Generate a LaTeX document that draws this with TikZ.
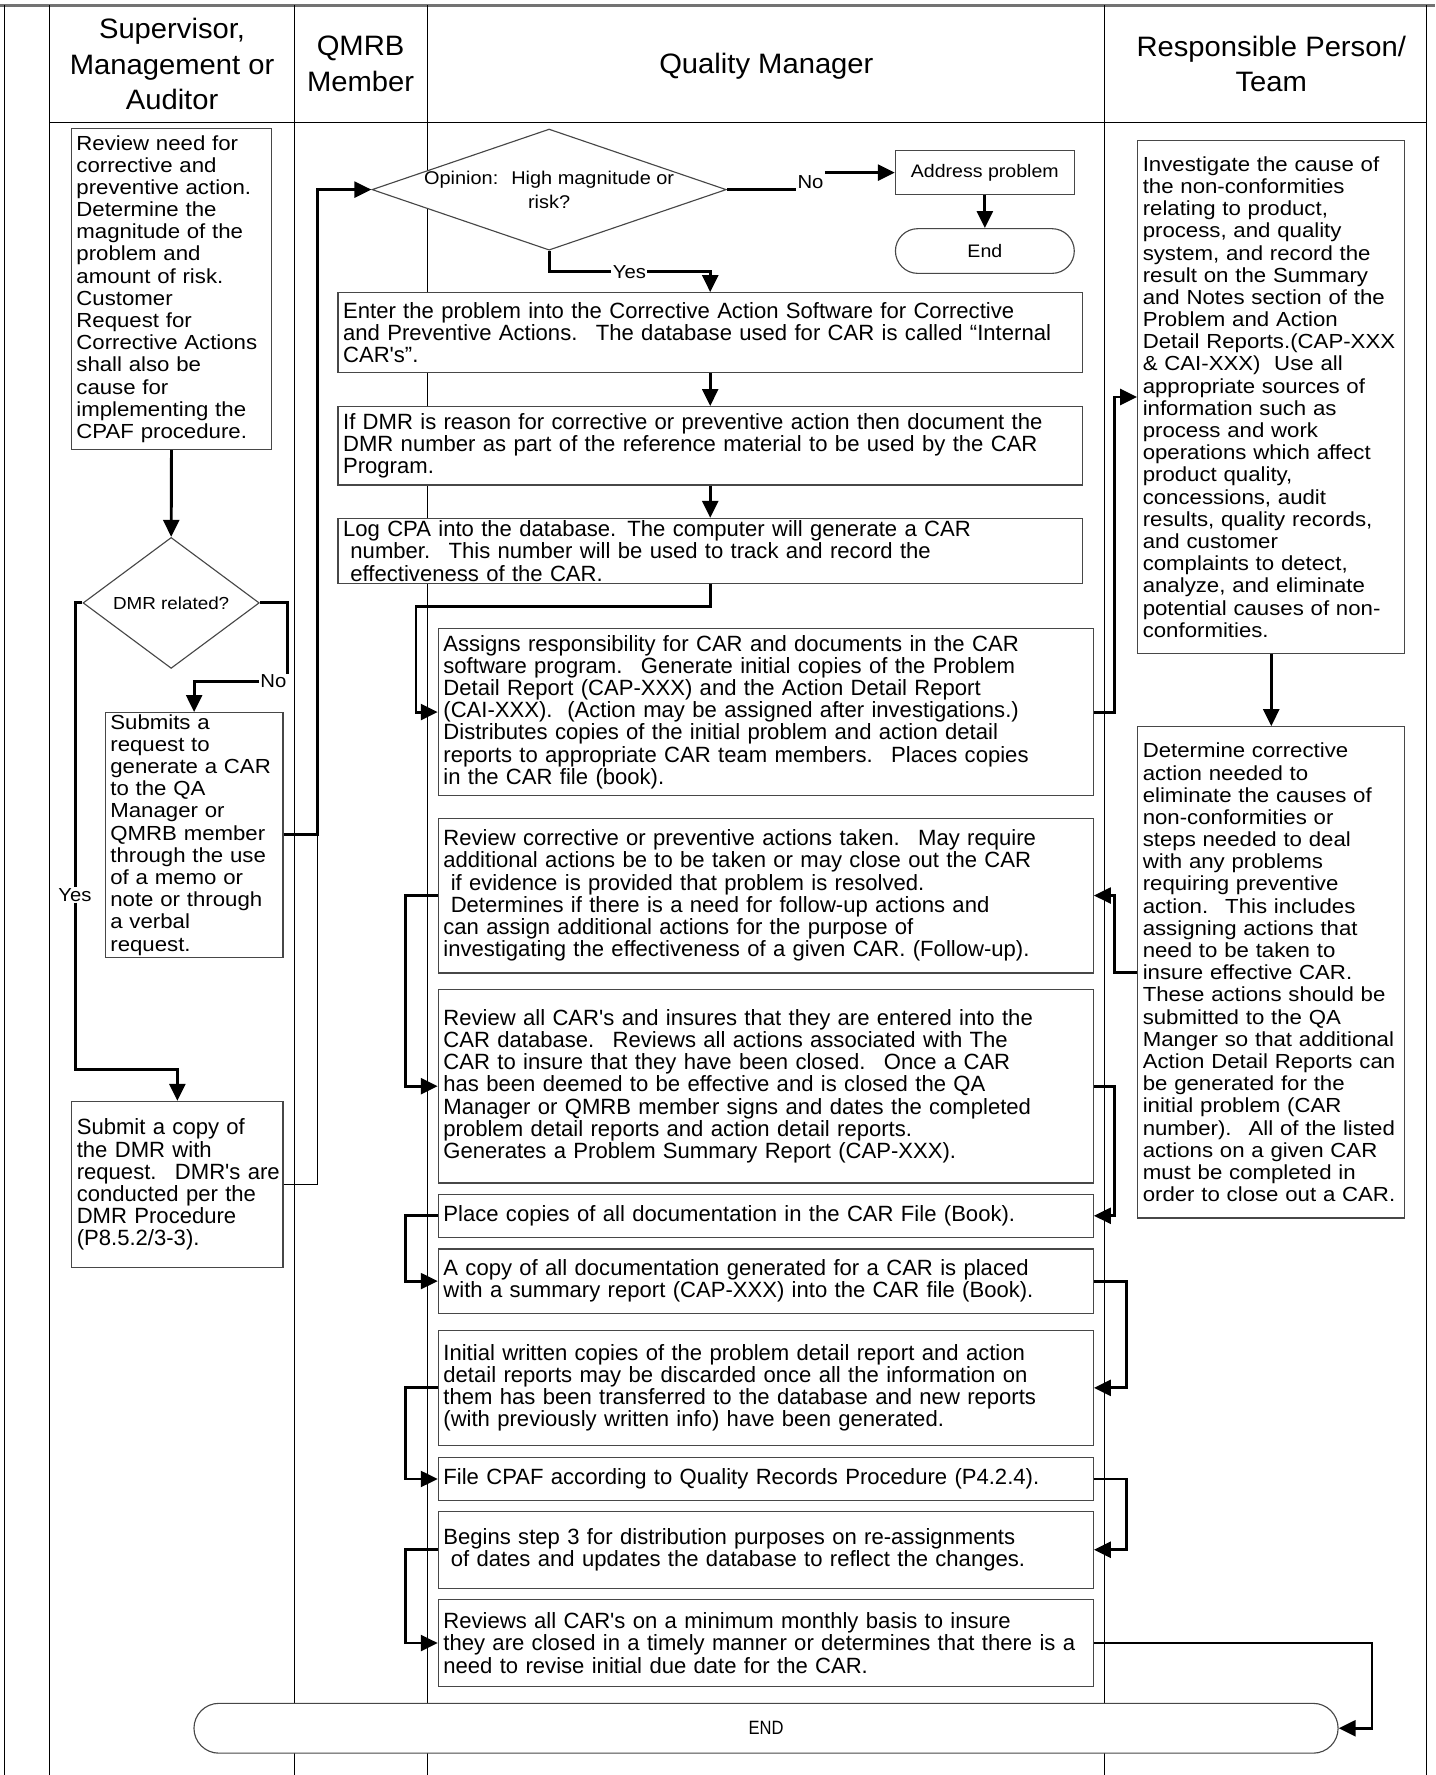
\documentclass[tikz,border=0pt]{standalone}
\usepackage{fontspec}
\setmainfont{Liberation Sans}
\newfontfamily\bodyfont[FakeStretch=1.0]{Liberation Sans}
\newfontfamily\sidefont[FakeStretch=1.09]{Liberation Sans}
\newfontfamily\lblfont[FakeStretch=1.08]{Liberation Sans}
\newfontfamily\headfont[FakeStretch=1.04]{Liberation Sans}
\newfontfamily\endfont[FakeStretch=0.86]{Liberation Sans}
\usetikzlibrary{arrows.meta,shapes.geometric}
\definecolor{boxgrey}{gray}{0.28}
\definecolor{bandgrey}{gray}{0.45}
\newcommand\leadsp{\mbox{}\ }
\begin{document}
\begin{tikzpicture}[x=1pt,y=-1pt,
  lane/.style={line width=1pt, black},
  box/.style={draw=boxgrey, line width=1pt, fill=white, rectangle, inner xsep=4.5pt, inner ysep=1pt, align=left,
    font={\bodyfont\fontsize{19.5}{19.6}\selectfont},
    execute at begin node={\rightskip=0pt plus 1fil minus 1000pt\relax}},
  sidebox/.style={box, font={\sidefont\fontsize{18}{19.6}\selectfont}},
  midbox/.style={box, minimum width=578.6pt, text width=569.6pt},
  topbox/.style={box, minimum width=657.6pt, text width=648.6pt},
  rbox/.style={sidebox, minimum width=236pt, text width=227pt},
  term/.style={draw=boxgrey, line width=1pt, fill=white, rectangle, align=center, inner sep=0pt},
  decision/.style={draw=boxgrey, line width=1pt, fill=white, diamond, inner sep=0pt},
  dtext/.style={align=center, font={\lblfont\fontsize{16.3}{21.4}\selectfont}},
  head/.style={align=center, font={\headfont\fontsize{24.8}{31.5}\selectfont}},
  lbl/.style={inner sep=1pt, font={\lblfont\fontsize{16.6}{19}\selectfont}},
  flow/.style={line width=2.6pt, line join=miter, line cap=butt},
  arr/.style={flow, -{Triangle[length=15pt,width=14pt]}},
  thinline/.style={line width=1pt},
]
\useasboundingbox (0,0) rectangle (1268,1568);

% ---- swimlane frame ----
\draw[bandgrey, line width=2.4pt] (0,4.8) -- (1268,4.8);
\draw[lane] (4,4.8) -- (4,1568);
\foreach \x in {43.5,260,377.5,975.5,1260} \draw[lane] (\x,4.8) -- (\x,1568);
\draw[lane] (43.5,108) -- (1260,108);

% ---- headers ----
\node[head] (hd1) at (152,56.6) {Supervisor,\\Management or\\Auditor};
\node[head] (hd2) at (318.5,56.4) {QMRB\\Member};
\node[head] (hd3) at (677,58.5) {Quality Manager};
\node[head] (hd4) at (1123,56.5) {Responsible Person/\\Team};

% ---- left lane ----
\node[sidebox, minimum width=177pt, text width=168pt, minimum height=283.5pt] (b1) at (151.5,255.3)
{Review need for\\corrective and\\preventive action.\\Determine the\\magnitude of the\\problem and\\amount of risk.\\Customer\\Request for\\Corrective Actions\\shall also be\\cause for\\implementing the\\CPAF procedure.};

\node[decision, minimum width=155.7pt, minimum height=115.7pt,
  label={[dtext, font={\lblfont\fontsize{15.4}{18}\selectfont}]center:DMR related?}] (dmr) at (151.2,532.6) {};

\node[sidebox, minimum width=157pt, text width=148pt, minimum height=216pt] (b2) at (171.5,737.5)
{Submits a\\request to\\generate a CAR\\to the QA\\Manager or\\QMRB member\\through the use\\of a memo or\\note or through\\a verbal\\request.};

\node[box, minimum width=186.7pt, text width=177.7pt, minimum height=147pt] (b3) at (156.7,1046.5)
{Submit a copy of\\the DMR with\\request.~ DMR's are\\conducted per the\\DMR Procedure\\(P8.5.2/3-3).};

\node[lbl] (NoL) at (241.5,602) {No};
\node[lbl] (YesL) at (66.3,790.4) {Yes};

% ---- quality manager lane ----
\node[decision, minimum width=313pt, minimum height=107pt,
  label={[dtext]center:{Opinion:~ High magnitude or\\risk?}}] (d1) at (485.1,167.5) {};

\node[term, minimum width=158pt, minimum height=39pt, font={\lblfont\fontsize{16}{18}\selectfont}] (addr) at (870,152.5) {Address problem};
\node[term, minimum width=158pt, minimum height=39.5pt, rounded corners=19.75pt, font={\lblfont\fontsize{16}{18}\selectfont}] (endA) at (870,221.75) {End};

\node[lbl] (NoR) at (716,160.5) {No};
\node[lbl] (YesT) at (556,240) {Yes};

\node[topbox, minimum height=70.8pt] (E) at (627.4,294)
{Enter the problem into the Corrective Action Software for Corrective\\and Preventive Actions.~ The database used for CAR is called “Internal\\CAR's”.};

\node[topbox, minimum height=69.3pt] (F) at (627.4,393.8)
{If DMR is reason for corrective or preventive action then document the\\DMR number as part of the reference material to be used by the CAR\\Program.};

\node[topbox, minimum height=57.6pt] (G) at (627.4,486.8)
{Log CPA into the database. The computer will generate a CAR\\\leadsp number.~ This number will be used to track and record the\\\leadsp effectiveness of the CAR.};

\node[midbox, minimum height=147pt] (H) at (676.5,629)
{Assigns responsibility for CAR and documents in the CAR\\software program.~ Generate initial copies of the Problem\\Detail Report (CAP-XXX) and the Action Detail Report\\(CAI-XXX).~ (Action may be assigned after investigations.)\\Distributes copies of the initial problem and action detail\\reports to appropriate CAR team members.~ Places copies\\in the CAR file (book).};

\node[midbox, minimum height=136.8pt] (I) at (676.5,791.1)
{Review corrective or preventive actions taken.~ May require\\additional actions be to be taken or may close out the CAR\\\leadsp if evidence is provided that problem is resolved.\\\leadsp Determines if there is a need for follow-up actions and\\can assign additional actions for the purpose of\\investigating the effectiveness of a given CAR. (Follow-up).};

\node[midbox, minimum height=171pt] (J) at (676.5,959.5)
{Review all CAR's and insures that they are entered into the\\CAR database.~ Reviews all actions associated with The\\CAR to insure that they have been closed.~ Once a CAR\\has been deemed to be effective and is closed the QA\\Manager or QMRB member signs and dates the completed\\problem detail reports and action detail reports.\\Generates a Problem Summary Report (CAP-XXX).};

\node[midbox, minimum height=38pt] (K) at (676.5,1074)
{Place copies of all documentation in the CAR File (Book).};

\node[midbox, minimum height=56.7pt] (L) at (676.5,1131.7)
{A copy of all documentation generated for a CAR is placed\\with a summary report (CAP-XXX) into the CAR file (Book).};

\node[midbox, minimum height=102pt] (M) at (676.5,1226)
{Initial written copies of the problem detail report and action\\detail reports may be discarded once all the information on\\them has been transferred to the database and new reports\\(with previously written info) have been generated.};

\node[midbox, minimum height=38.3pt] (N) at (676.5,1306.5)
{File CPAF according to Quality Records Procedure (P4.2.4).};

\node[midbox, minimum height=68pt] (O) at (676.5,1369)
{Begins step 3 for distribution purposes on re-assignments\\\leadsp of dates and updates the database to reflect the changes.};

\node[midbox, minimum height=77.3pt] (P) at (676.5,1451.4)
{Reviews all CAR's on a minimum monthly basis to insure\\they are closed in a timely manner or determines that there is a\\need to revise initial due date for the CAR.};

\node[term, minimum width=1010.7pt, minimum height=44pt, rounded corners=22pt, font={\endfont\fontsize{17}{18}\selectfont}] (ENDB) at (676.7,1526.7) {END};

% ---- responsible person lane ----
\node[rbox, minimum height=452.7pt] (R1) at (1123,350.7)
{Investigate the cause of\\the non-conformities\\relating to product,\\process, and quality\\system, and record the\\result on the Summary\\and Notes section of the\\Problem and Action\\Detail Reports.(CAP-XXX\\\& CAI-XXX)~ Use all\\appropriate sources of\\information such as\\process and work\\operations which affect\\product quality,\\concessions, audit\\results, quality records,\\and customer\\complaints to detect,\\analyze, and eliminate\\potential causes of non-\\conformities.};

\node[rbox, minimum height=434pt] (R2) at (1123,859)
{Determine corrective\\action needed to\\eliminate the causes of\\non-conformities or\\steps needed to deal\\with any problems\\requiring preventive\\action.~ This includes\\assigning actions that\\need to be taken to\\insure effective CAR.\\These actions should be\\submitted to the QA\\Manger so that additional\\Action Detail Reports can\\be generated for the\\initial problem (CAR\\number).~ All of the listed\\actions on a given CAR\\must be completed in\\order to close out a CAR.};

% ---- connectors ----
\coordinate (qx) at (280.7,0);
\coordinate (yc) at (66.3,945);
\coordinate (gx) at (367.5,536);
\coordinate (rx) at (984.5,0);
\coordinate (rx2) at (995.5,0);
\coordinate (lx) at (358,0);
\coordinate (px) at (1212,0);

\draw[arr] (b1.south) -- (dmr.north);
\draw[flow] (dmr.east) -| (NoL.north east);
\draw[arr] (NoL.west) -| (b2.north);
\draw[flow] (dmr.west) -| (YesL.north);
\draw[arr] (YesL.south) -- (yc) -| (b3.north);
\draw[arr] (b2.east) -| (qx |- d1.west) -- (d1.west);
\draw[thinline] (b3.east) -| (qx |- b2.east);

\draw[flow] (d1.east) -- (NoR.west |- d1.east);
\draw[arr] (NoR.east |- addr.west) -- (addr.west);
\draw[arr] (addr.south) -- (endA.north);
\draw[flow] (d1.south) |- (YesT.west);
\draw[arr] (YesT.east) -| (E.north);
\draw[arr] (E.south) -- (F.north);
\draw[arr] (F.south) -- (G.north);
\draw[arr] (G.south) |- (gx) |- (H.west);
\draw[arr] (H.east) -| (rx |- R1.west) -- (R1.west);
\draw[arr] (R1.south) -- (R2.north);
\draw[arr] (R2.west) -| (rx |- I.east) -- (I.east);
\draw[arr] (I.west) -| (lx |- J.west) -- (J.west);
\draw[arr] (J.east) -| (rx |- K.east) -- (K.east);
\draw[arr] (K.west) -| (lx |- L.west) -- (L.west);
\draw[arr] (L.east) -| (rx2 |- M.east) -- (M.east);
\draw[arr] (M.west) -| (lx |- N.west) -- (N.west);
\draw[arr] (N.east) -| (rx2 |- O.east) -- (O.east);
\draw[arr] (O.west) -| (lx |- P.west) -- (P.west);
\draw[arr] (P.east) -| (px |- ENDB.east) -- (ENDB.east);
\end{tikzpicture}
\end{document}
